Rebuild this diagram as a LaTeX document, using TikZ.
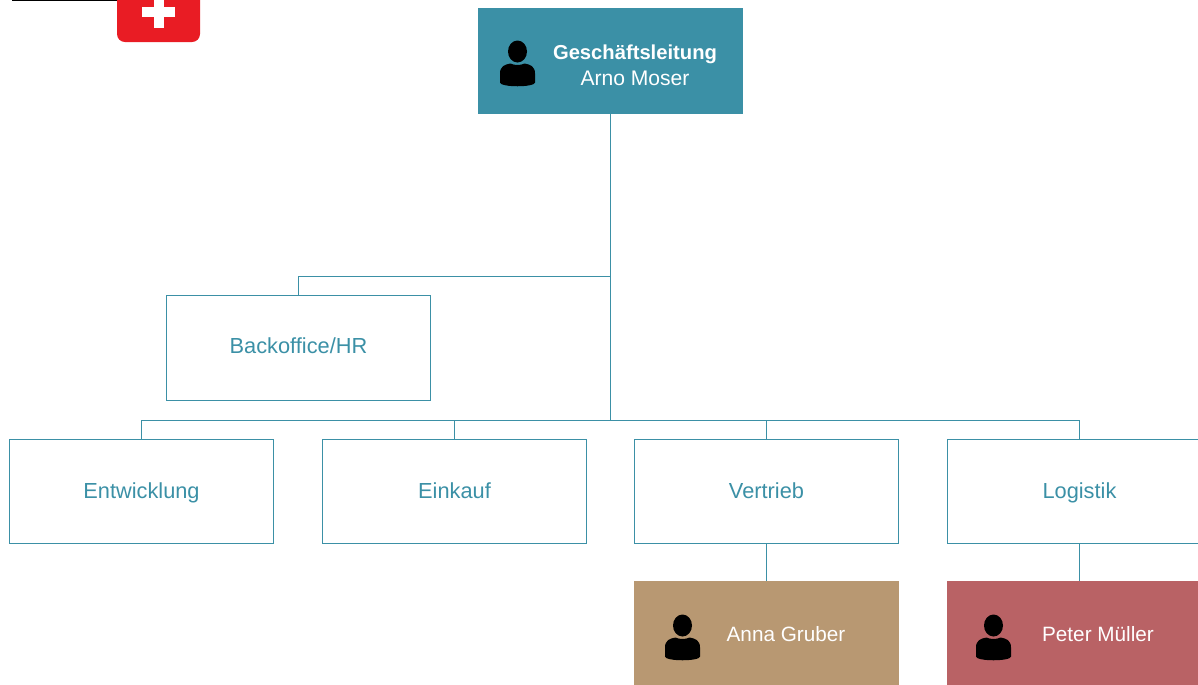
\documentclass[tikz,border=0pt]{standalone}
\usepackage{fontspec}
\setmainfont{Liberation Sans}
\definecolor{Teal}{HTML}{3B90A6}
\definecolor{Tan}{HTML}{B89872}
\definecolor{Rose}{HTML}{B96265}
\definecolor{FlagRed}{HTML}{E91C24}
\tikzset{
  unit/.style={draw=Teal, line width=0.6pt, text=Teal, minimum width=5.27cm, minimum height=2.09cm, text height=0.35cm, text depth=0.07cm, font=\fontsize{12.4}{14}\selectfont},
  person/.style={fill=#1, draw=none, minimum width=5.3cm, minimum height=2.12cm},
  whitetext/.style={text=white, font=\fontsize{11.8}{14.7}\selectfont, align=center},
  link/.style={draw=Teal, line width=0.6pt},
  pics/head/.style={code={
    \fill[black] (0,-12) ellipse (9.5 and 11);
    \fill[black] (-7,0) .. controls (-3,2) and (3,2) .. (7,0)
      .. controls (13,1) and (17.5,3) .. (17.5,10)
      -- (17.5,19) .. controls (17,24) and (-17,24) .. (-17.5,19)
      -- (-17.5,10) .. controls (-17.5,3) and (-13,1) .. (-7,0) -- cycle;
  }}
}
\begin{document}
\begin{tikzpicture}[x=0.02cm,y=-0.02cm]
  \useasboundingbox (0,0) rectangle (1198,684);
  \clip (0,0) rectangle (1198,684);

  % logo
  \draw[black, line width=0.8pt] (12,0) -- (117,0);
  \fill[FlagRed, rounded corners=0.16cm] (117,-20) rectangle (200,42);
  \fill[white] (142,7) rectangle (175,17);
  \fill[white] (154,-5) rectangle (164,28);

  \node[person=Teal] (Leitung) at (610.5,61) {};
  \node[unit, text depth=0.15cm] (Backoffice) at (298.5,348) {Backoffice/HR};
  \node[unit] (Entwicklung) at (141.5,491.5) {Entwicklung};
  \node[unit] (Einkauf) at (454.5,491.5) {Einkauf};
  \node[unit] (Vertrieb) at (766.5,491.5) {Vertrieb};
  \node[unit, text depth=0.09cm] (Logistik) at (1079.5,491.5) {Logistik};
  \node[person=Tan] (Anna) at (766.5,634) {};
  \node[person=Rose] (Peter) at (1079.5,634) {};

  \node[whitetext] (LeitungText) at (635,65) {{\fontsize{11.5}{14.7}\selectfont\textbf{Geschäftsleitung}}\\{\fontsize{12}{14.7}\selectfont Arno Moser}};
  \node[whitetext] (AnnaText) at (786,634) {Anna Gruber};
  \node[whitetext] (PeterText) at (1098,634) {Peter Müller};

  \pic at (517.5,63.5) {head};
  \pic at (682.5,637.5) {head};
  \pic at (993.5,637.5) {head};

  \coordinate (UpperJoint) at (610.5,276.5);
  \coordinate (LowerJoint) at (610.5,420.5);

  \draw[link] (Leitung) to (LowerJoint);
  \draw[link] (Backoffice.north) |- (UpperJoint);
  \draw[link] (Entwicklung.north) |- (LowerJoint);
  \draw[link] (Einkauf.north) |- (LowerJoint);
  \draw[link] (Vertrieb.north) |- (LowerJoint);
  \draw[link] (Logistik.north) |- (LowerJoint);
  \draw[link] (Vertrieb) to (Anna);
  \draw[link] (Logistik) to (Peter);
\end{tikzpicture}
\end{document}
